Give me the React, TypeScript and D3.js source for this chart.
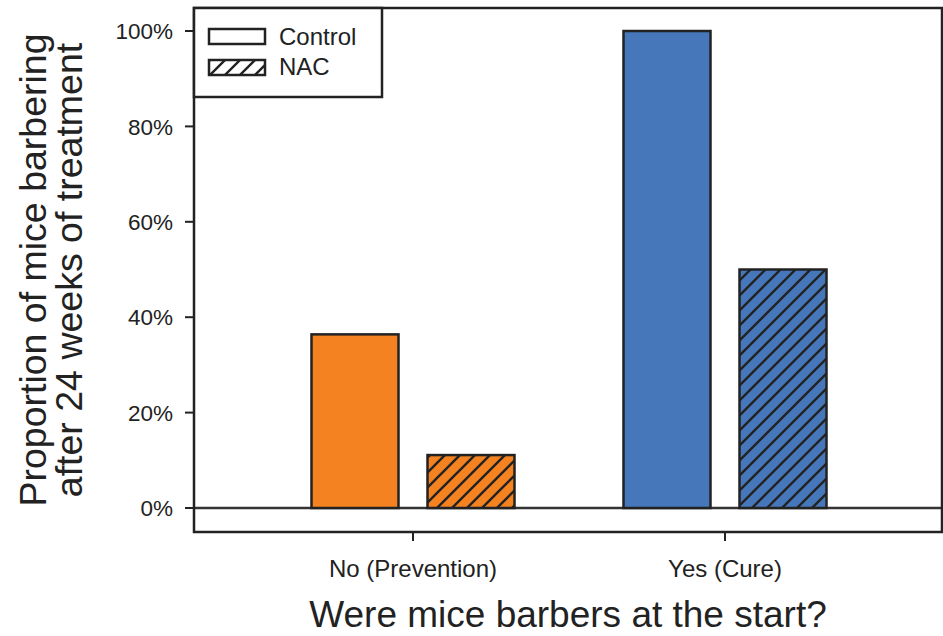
import React from "react";
import * as d3 from "d3";

const categories = ["No (Prevention)", "Yes (Cure)"];
const groups = ["Control", "NAC"];
const controlValues = [0.364, 1.0];
const nacValues = [0.111, 0.5];
const categoryColors = ["#F58220", "#4677BA"];
const yTicks = [0, 0.2, 0.4, 0.6, 0.8, 1.0];

const W = 943, H = 636;
const plotLeft = 194, plotRight = 942, plotTop = 8, plotBottom = 532;

export default function App() {
  const y = d3.scaleLinear().domain([0, 1]).range([508, 31]);
  const x = d3.scaleBand().domain(categories).range([257, 881]).padding(0);
  const xc = (c: string) => (x(c) as number) + x.bandwidth() / 2;
  const barW = 87;
  const gap = 29;
  const fmt = d3.format(".0%");
  const font = "'Liberation Sans', Arial, sans-serif";
  const stroke = "#222";

  const hatchId = (i: number) => `hatch${i}`;

  return (
    <svg width={W} height={H} style={{ position: "absolute", left: 0, top: 0, background: "#fff" }}>
      <defs>
        {[...categoryColors, "#ffffff"].map((c, i) => (
          <pattern key={i} id={hatchId(i)} patternUnits="userSpaceOnUse" width={15} height={15}>
            <rect width={15} height={15} fill={c} />
            <path d="M0,15 L15,0 M-3.75,3.75 L3.75,-3.75 M11.25,18.75 L18.75,11.25" stroke={stroke} strokeWidth={2.4} />
          </pattern>
        ))}
      </defs>
      {/* zero line */}
      <line x1={plotLeft} x2={plotRight} y1={y(0)} y2={y(0)} stroke="#333" strokeWidth={2.5} />
      {/* bars */}
      {categories.map((c, i) => {
        const cx = xc(c);
        const x1 = cx - gap / 2 - barW;
        const x2 = cx + gap / 2;
        return (
          <g key={c}>
            <rect x={x1} y={y(controlValues[i])} width={barW} height={y(0) - y(controlValues[i])}
              fill={categoryColors[i]} stroke={stroke} strokeWidth={2.5} />
            <rect x={x2} y={y(nacValues[i])} width={barW} height={y(0) - y(nacValues[i])}
              fill={`url(#${hatchId(i)})`} stroke={stroke} strokeWidth={2.5} />
          </g>
        );
      })}
      {/* plot frame */}
      <rect x={plotLeft} y={plotTop} width={plotRight - plotLeft} height={plotBottom - plotTop}
        fill="none" stroke={stroke} strokeWidth={2.5} />
      {/* y ticks */}
      {yTicks.map((t) => (
        <g key={t}>
          <line x1={185} x2={plotLeft} y1={y(t)} y2={y(t)} stroke={stroke} strokeWidth={2} />
          <text x={173} y={y(t)} dy="0.36em" textAnchor="end" fontFamily={font} fontSize={22.5} fill="#222">{fmt(t)}</text>
        </g>
      ))}
      {/* x ticks */}
      {categories.map((c) => (
        <g key={c}>
          <line x1={xc(c)} x2={xc(c)} y1={plotBottom} y2={541} stroke={stroke} strokeWidth={2} />
          <text x={xc(c)} y={577} textAnchor="middle" fontFamily={font} fontSize={24} fill="#222">{c}</text>
        </g>
      ))}
      {/* axis titles */}
      <text x={568} y={627} textAnchor="middle" fontFamily={font} fontSize={37} fill="#222">Were mice barbers at the start?</text>
      <text transform="translate(46,270) rotate(-90)" textAnchor="middle" fontFamily={font} fontSize={37.5} fill="#222">Proportion of mice barbering</text>
      <text transform="translate(82,270) rotate(-90)" textAnchor="middle" fontFamily={font} fontSize={37.5} fill="#222">after 24 weeks of treatment</text>
      {/* legend */}
      <rect x={plotLeft} y={plotTop} width={188} height={89} fill="#fff" stroke={stroke} strokeWidth={2.5} />
      {groups.map((g, i) => (
        <g key={g}>
          <rect x={209} y={29 + i * 31} width={56} height={15} fill={i === 0 ? "#fff" : `url(#${hatchId(2)})`} stroke={stroke} strokeWidth={2.5} />
          <text x={279} y={45 + i * 30} fontFamily={font} fontSize={24} fill="#222">{g}</text>
        </g>
      ))}
    </svg>
  );
}
